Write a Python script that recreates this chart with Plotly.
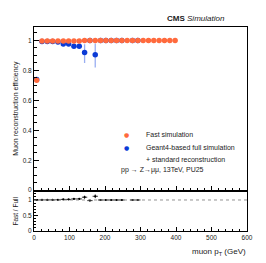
import plotly.graph_objects as go

# ---- data ----
pt_bins = [7.5 + 15 * i for i in range(27)]
fast_eff = [0.735, 0.996, 0.996, 0.996, 0.996, 0.996, 0.996, 0.996, 0.996,
            1.0, 1.0, 1.0, 1.0, 1.0, 1.0, 1.0, 1.0, 1.0, 1.0, 1.0,
            1.0, 1.0, 1.0, 1.0, 1.0, 1.0, 1.0]
fast_err = [0.01] + [0.002] * 26

full_bins = [7.5, 22.5, 37.5, 52.5, 67.5, 82.5, 97.5, 112.5, 127.5, 142.5,
             157.5, 172.5, 187.5, 202.5, 217.5, 232.5, 247.5, 277.5, 292.5]
full_eff = [0.74, 0.993, 0.993, 0.993, 0.99, 0.977, 0.977, 0.962, 0.962, 0.92,
            1.0, 0.905, 1.0, 1.0, 1.0, 1.0, 1.0, 1.0, 1.0]
full_err_up = [0.01, 0.003, 0.003, 0.003, 0.004, 0.006, 0.006, 0.01, 0.01, 0.055,
               0.0, 0.075, 0.0, 0.0, 0.0, 0.0, 0.0, 0.0, 0.0]
full_err_dn = [0.01, 0.003, 0.003, 0.003, 0.004, 0.006, 0.006, 0.012, 0.012, 0.07,
               0.0, 0.085, 0.0, 0.0, 0.0, 0.0, 0.0, 0.0, 0.0]

ratio_vals = [1.0, 1.003, 1.003, 1.003, 1.006, 1.019, 1.019, 1.035, 1.035, 1.09,
              0.98, 1.12, 1.0, 1.0, 1.0, 1.0, 1.0, 1.0, 1.0]
ratio_err = [0.015, 0.004, 0.004, 0.004, 0.005, 0.007, 0.007, 0.012, 0.012, 0.05,
             0.01, 0.06, 0.0, 0.0, 0.0, 0.0, 0.0, 0.0, 0.0]
bin_half = 7.5

main_yticks = [0, 0.2, 0.4, 0.6, 0.8, 1]
main_yticklabels = ["0", "0.2", "0.4", "0.6", "0.8", "1"]
ratio_yticks = [0, 0.5, 1]
ratio_yticklabels = ["0", "0.5", "1"]

ORANGE = "#ff6a3d"
BLUE = "#0b3bd6"
FONT = "Liberation Sans"
TXT = "#1a1a1a"
NB = "\u00a0"

fig = go.Figure()

fig.add_trace(go.Scatter(
    x=full_bins, y=full_eff, mode="markers", xaxis="x", yaxis="y",
    marker=dict(color=BLUE, size=5.5),
    error_y=dict(type="data", symmetric=False, array=full_err_up,
                 arrayminus=full_err_dn, color="rgba(110,140,235,0.7)",
                 thickness=1.3, width=0),
    showlegend=False))

fig.add_trace(go.Scatter(
    x=pt_bins, y=fast_eff, mode="markers", xaxis="x", yaxis="y",
    marker=dict(color=ORANGE, size=5.5),
    error_y=dict(type="data", array=fast_err, color="rgba(255,106,61,0.6)",
                 thickness=1, width=0),
    showlegend=False))

fig.add_trace(go.Scatter(
    x=full_bins, y=ratio_vals, mode="markers", xaxis="x2", yaxis="y2",
    marker=dict(color="black", size=2.2),
    error_x=dict(type="constant", value=bin_half, color="black", thickness=0.8, width=0),
    error_y=dict(type="data", array=ratio_err, color="black", thickness=0.8, width=0),
    showlegend=False))

axis_common = dict(showline=True, mirror=True, linecolor="black", linewidth=1,
                   showgrid=False, zeroline=False, ticks="inside", automargin=False,
                   tickcolor="black", tickfont=dict(family=FONT, size=6.5, color=TXT))

fig.update_layout(
    width=266, height=263,
    margin=dict(l=26, r=27, t=19, b=40),
    paper_bgcolor="white", plot_bgcolor="white",
    font=dict(family=FONT, color=TXT),
    xaxis=dict(domain=[0, 1], anchor="y", range=[0, 600], dtick=100, tick0=0,
               ticklen=4, showticklabels=False,
               minor=dict(dtick=20, ticks="inside", ticklen=2, tickcolor="black"),
               **axis_common),
    yaxis=dict(domain=[0.2, 1], anchor="x", range=[0, 1.09],
               tickmode="array", tickvals=main_yticks, ticktext=main_yticklabels,
               ticklen=5,
               title=dict(text=NB * 38 + "Muon reconstruction efficiency", standoff=3,
                          font=dict(family=FONT, size=7, color=TXT)),
               minor=dict(tickmode="linear", tick0=0, dtick=0.05, ticks="inside",
                          ticklen=2.5, tickcolor="black"),
               **axis_common),
    xaxis2=dict(domain=[0, 1], anchor="y2", range=[0, 600], dtick=100, tick0=0,
                ticklen=4, matches="x",
                minor=dict(dtick=20, ticks="inside", ticklen=2, tickcolor="black"),
                **axis_common),
    yaxis2=dict(domain=[0, 0.193], anchor="x2", range=[0, 1.27],
                tickmode="array", tickvals=ratio_yticks, ticktext=ratio_yticklabels,
                ticklen=4,
                title=dict(text=NB * 4 + "Fast / Full", standoff=3,
                           font=dict(family=FONT, size=6.5, color=TXT)),
                minor=dict(tickmode="linear", tick0=0, dtick=0.1, ticks="inside",
                           ticklen=2, tickcolor="black"),
                **axis_common),
)

fig.add_shape(type="line", xref="x2", yref="y2", x0=0, x1=600, y0=1, y1=1,
              line=dict(color="#777", width=0.8, dash="dot"))

ann = []
ann.append(dict(text="muon p<sub>T</sub> (GeV)", xref="paper", yref="paper",
                x=1.005, y=-0.07, xanchor="right", yanchor="top",
                showarrow=False, font=dict(family=FONT, size=8, color=TXT)))
# CMS label
ann.append(dict(text="<b>CMS</b> <i>Simulation</i>", xref="paper", yref="paper",
                x=0.905, y=1.01, xanchor="right", yanchor="bottom",
                showarrow=False, font=dict(family=FONT, size=8, color=TXT)))
# legend
ann.append(dict(text="●", xref="x", yref="y", x=261, y=0.371, showarrow=False,
                font=dict(family="DejaVu Sans", size=6, color=ORANGE)))
ann.append(dict(text="●", xref="x", yref="y", x=261, y=0.282, showarrow=False,
                font=dict(family="DejaVu Sans", size=6, color=BLUE)))
for txt, yy in [("Fast simulation", 0.371), ("Geant4-based full simulation", 0.287),
                ("+ standard reconstruction", 0.204)]:
    ann.append(dict(text=txt, xref="x", yref="y", x=311, y=yy, xanchor="left",
                    showarrow=False, font=dict(family=FONT, size=7, color=TXT)))
ann.append(dict(text="pp → Z→μμ, 13TeV, PU25", xref="x", yref="y", x=240, y=0.133,
                xanchor="left", showarrow=False, font=dict(family=FONT, size=7, color=TXT)))
fig.update_layout(annotations=ann)

fig.write_html("out.html")
